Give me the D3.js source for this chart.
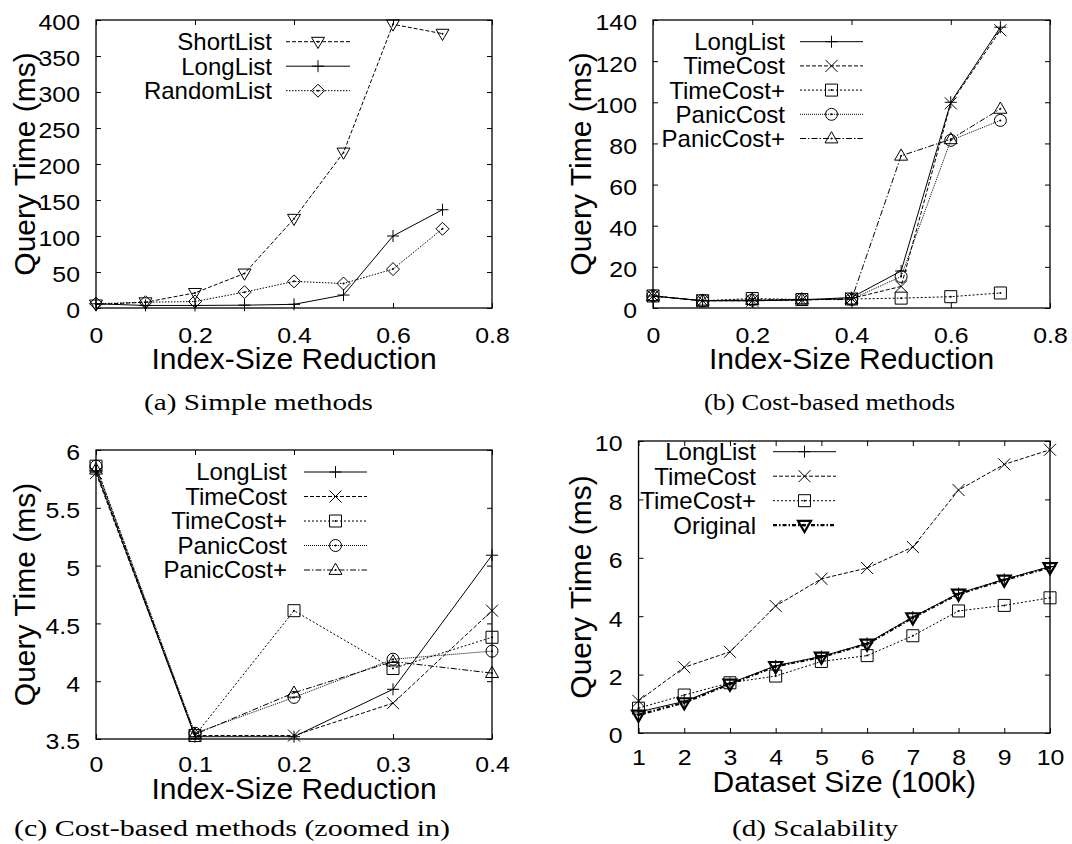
<!DOCTYPE html>
<html>
<head>
<meta charset="utf-8">
<script src="https://cdn.jsdelivr.net/npm/d3@7"></script>
<style>
  body { margin: 0; background: #fff; }
</style>
</head>
<body>
<script>
// ---- x values ----
const reduction = [0, 0.1, 0.2, 0.3, 0.4, 0.5, 0.6, 0.7];
const reductionZoomed = [0, 0.1, 0.2, 0.3, 0.4];
const datasetSize = [1, 2, 3, 4, 5, 6, 7, 8, 9, 10];

// ---- (a) simple methods, query time (ms) ----
const shortList  = [5, 8, 21, 48, 124, 216, 394, 381];
const longList   = [5.82, 3.52, 3.52, 3.93, 5.09, 18, 100, 136.5];
const randomList = [6, 8, 9, 22, 37, 34, 54, 110];

// ---- (b)/(c) cost-based methods, query time (ms) ----
const timeCost      = [5.80, 3.53, 3.53, 3.81, 4.61, 10.5, 99.5, 135];
const timeCostPlus  = [5.86, 3.53, 4.61, 4.11, 4.38, 4.8, 5.5, 7.3];
const panicCost     = [5.86, 3.55, 3.86, 4.19, 4.26, 15.3, 81.5, 91.2];
const panicCostPlus = [5.83, 3.54, 3.90, 4.17, 4.07, 74, 82, 96.8];

// ---- (d) scalability, query time (ms) ----
const scalLongList     = [0.72, 1.08, 1.70, 2.30, 2.62, 3.07, 3.97, 4.78, 5.26, 5.70];
const scalTimeCost     = [1.10, 2.25, 2.78, 4.35, 5.28, 5.65, 6.37, 8.32, 9.20, 9.70];
const scalTimeCostPlus = [0.85, 1.30, 1.72, 1.95, 2.45, 2.65, 3.33, 4.18, 4.37, 4.63];
const scalOriginal     = [0.62, 1.04, 1.68, 2.28, 2.60, 3.05, 3.95, 4.76, 5.24, 5.67];

// ---- ticks ----
const reductionTicks = [0, 0.2, 0.4, 0.6, 0.8];
const reductionTickLabels = ["0", "0.2", "0.4", "0.6", "0.8"];
const simpleTimeTicks = [0, 50, 100, 150, 200, 250, 300, 350, 400];
const simpleTimeTickLabels = ["0", "50", "100", "150", "200", "250", "300", "350", "400"];
const costTimeTicks = [0, 20, 40, 60, 80, 100, 120, 140];
const costTimeTickLabels = ["0", "20", "40", "60", "80", "100", "120", "140"];
const zoomReductionTicks = [0, 0.1, 0.2, 0.3, 0.4];
const zoomReductionTickLabels = ["0", "0.1", "0.2", "0.3", "0.4"];
const zoomTimeTicks = [3.5, 4, 4.5, 5, 5.5, 6];
const zoomTimeTickLabels = ["3.5", "4", "4.5", "5", "5.5", "6"];
const sizeTicks = [1, 2, 3, 4, 5, 6, 7, 8, 9, 10];
const sizeTickLabels = ["1", "2", "3", "4", "5", "6", "7", "8", "9", "10"];
const scalTimeTicks = [0, 2, 4, 6, 8, 10];
const scalTimeTickLabels = ["0", "2", "4", "6", "8", "10"];

// ---- line / point styles ----
const styles = {
  "ShortList":  { dash: "4,2",          marker: "triDown", width: 1 },
  "LongList":   { dash: null,           marker: "plus",    width: 1 },
  "RandomList": { dash: "1.5,1.5",      marker: "diamond", width: 1 },
  "TimeCost":   { dash: "4,2",          marker: "cross",   width: 1 },
  "TimeCost+":  { dash: "2,2",          marker: "square",  width: 1 },
  "PanicCost":  { dash: "1,1",          marker: "circle",  width: 1 },
  "PanicCost+": { dash: "6,2,1.5,2",    marker: "triUp",   width: 1 },
  "Original":   { dash: "4,2,1.5,2",    marker: "triDown", width: 2.2 }
};

const SANS = "'Liberation Sans', Arial, Helvetica, sans-serif";
const SERIF = "'Liberation Serif', 'Times New Roman', serif";

const markerPath = {
  plus:    "M-6,0H6M0,-6V6",
  cross:   "M-6,-6L6,6M-6,6L6,-6",
  square:  "M-6,-6H6V6H-6Z",
  circle:  "M6,0A6,6 0 1,1 -6,0A6,6 0 1,1 6,0Z",
  triUp:   "M0,-6.8L6.5,4.4L-6.5,4.4Z",
  triDown: "M0,6.8L6.5,-4.4L-6.5,-4.4Z",
  diamond: "M0,-6.5L6.5,0L0,6.5L-6.5,0Z"
};

const svg = d3.select("body").append("svg")
  .attr("width", 1072).attr("height", 844)
  .style("display", "block");
svg.append("rect").attr("width", 1072).attr("height", 844).attr("fill", "#fff");

function drawMarker(g, type, cx, cy, sw) {
  const m = g.append("g").attr("transform", `translate(${cx},${cy})`);
  m.append("path").attr("d", markerPath[type])
    .attr("fill", "none").attr("stroke", "#000").attr("stroke-width", sw);
  if (type !== "plus" && type !== "cross") {
    m.append("circle").attr("r", sw > 1.5 ? 1.4 : 1).attr("fill", "#000");
  }
}

function panel(cfg) {
  const g = svg.append("g");
  const x = d3.scaleLinear().domain(cfg.xDomain).range([cfg.l, cfg.r]);
  const y = d3.scaleLinear().domain(cfg.yDomain).range([cfg.b, cfg.t]);
  const tickLen = 5;

  // inward tick marks on all four sides
  const tickMarks = (axis, tx, ty) => {
    const a = g.append("g").attr("transform", `translate(${tx},${ty})`).call(axis);
    a.select(".domain").remove();
    a.selectAll("text").remove();
    a.selectAll("line").attr("stroke", "#000").attr("stroke-width", 1);
  };
  tickMarks(d3.axisBottom(x).tickValues(cfg.xTicks).tickSize(-tickLen), 0, cfg.b);
  tickMarks(d3.axisTop(x).tickValues(cfg.xTicks).tickSize(-tickLen), 0, cfg.t);
  tickMarks(d3.axisLeft(y).tickValues(cfg.yTicks).tickSize(-tickLen), cfg.l, 0);
  tickMarks(d3.axisRight(y).tickValues(cfg.yTicks).tickSize(-tickLen), cfg.r, 0);

  // tick labels
  const xl = g.append("g").attr("transform", `translate(0,${cfg.b})`)
    .call(d3.axisBottom(x).tickValues(cfg.xTicks)
      .tickFormat((d, i) => cfg.xLabels[i]).tickSize(0));
  xl.select(".domain").remove();
  xl.attr("font-family", SANS).attr("font-size", 22);
  xl.selectAll("text").attr("y", null).attr("dy", null).attr("fill", "#000")
    .attr("transform", `translate(0,${cfg.xLabelDy}) scale(1.13,1)`);

  const yl = g.append("g").attr("transform", `translate(${cfg.l},0)`)
    .call(d3.axisLeft(y).tickValues(cfg.yTicks)
      .tickFormat((d, i) => cfg.yLabels[i]).tickSize(0));
  yl.select(".domain").remove();
  yl.attr("font-family", SANS).attr("font-size", 22);
  yl.selectAll("text").attr("x", null).attr("dy", "0.45em").attr("fill", "#000")
    .attr("transform", `translate(-16,0) scale(1.13,1)`);

  // series
  const line = d3.line().x(d => x(d[0])).y(d => y(d[1]));
  cfg.series.forEach(s => {
    const st = styles[s.name];
    const pts = s.xs.map((xv, i) => [xv, s.values[i]]);
    g.append("path").datum(pts).attr("d", line)
      .attr("fill", "none").attr("stroke", "#000")
      .attr("stroke-width", st.width)
      .attr("stroke-dasharray", st.dash);
    pts.forEach(p => drawMarker(g, st.marker, x(p[0]), y(p[1]), st.width));
  });

  // frame
  g.append("rect")
    .attr("x", cfg.l).attr("y", cfg.t)
    .attr("width", cfg.r - cfg.l).attr("height", cfg.b - cfg.t)
    .attr("fill", "none").attr("stroke", "#000").attr("stroke-width", 1.3);

  // legend
  const lg = cfg.legend;
  cfg.series.forEach((s, i) => {
    const st = styles[s.name];
    const ry = lg.y0 + i * lg.step;
    g.append("text").attr("x", lg.textEnd).attr("y", ry).attr("dy", "0.35em")
      .attr("text-anchor", "end").attr("font-family", SANS).attr("font-size", 24)
      .attr("fill", "#000").text(s.name);
    g.append("line").attr("x1", lg.x1).attr("x2", lg.x2).attr("y1", ry).attr("y2", ry)
      .attr("stroke", "#000").attr("stroke-width", st.width)
      .attr("stroke-dasharray", st.dash);
    drawMarker(g, st.marker, (lg.x1 + lg.x2) / 2, ry, st.width);
  });

  // axis titles
  g.append("text").attr("x", (cfg.l + cfg.r) / 2).attr("y", cfg.b + cfg.xTitleDy)
    .attr("text-anchor", "middle").attr("font-family", SANS).attr("font-size", 30)
    .attr("fill", "#000").text(cfg.xTitle);
  g.append("text")
    .attr("transform", `translate(${cfg.yTitleX},${(cfg.t + cfg.b) / 2}) rotate(-90)`)
    .attr("text-anchor", "middle").attr("font-family", SANS).attr("font-size", 30)
    .attr("fill", "#000").text(cfg.yTitle);

  // caption
  g.append("text").attr("x", cfg.caption.x).attr("y", cfg.caption.y)
    .attr("font-family", SERIF).attr("font-size", 23).attr("fill", "#000")
    .attr("textLength", cfg.caption.len).attr("lengthAdjust", "spacingAndGlyphs")
    .text(cfg.caption.text);
}

// (a) Simple methods
panel({
  l: 96, r: 492, t: 20, b: 308,
  xDomain: [0, 0.8], yDomain: [0, 400],
  xTicks: reductionTicks, xLabels: reductionTickLabels,
  yTicks: simpleTimeTicks, yLabels: simpleTimeTickLabels,
  xLabelDy: 35, xTitleDy: 61, yTitleX: 35,
  xTitle: "Index-Size Reduction", yTitle: "Query Time (ms)",
  series: [
    { name: "ShortList", xs: reduction, values: shortList },
    { name: "LongList", xs: reduction, values: longList },
    { name: "RandomList", xs: reduction, values: randomList }
  ],
  legend: { textEnd: 272, x1: 286, x2: 350, y0: 41.7, step: 24.5 },
  caption: { text: "(a) Simple methods", x: 144, y: 410, len: 229 }
});

// (b) Cost-based methods
panel({
  l: 653, r: 1050, t: 20, b: 308,
  xDomain: [0, 0.8], yDomain: [0, 140],
  xTicks: reductionTicks, xLabels: reductionTickLabels,
  yTicks: costTimeTicks, yLabels: costTimeTickLabels,
  xLabelDy: 35, xTitleDy: 61, yTitleX: 591,
  xTitle: "Index-Size Reduction", yTitle: "Query Time (ms)",
  series: [
    { name: "LongList", xs: reduction, values: longList },
    { name: "TimeCost", xs: reduction, values: timeCost },
    { name: "TimeCost+", xs: reduction, values: timeCostPlus },
    { name: "PanicCost", xs: reduction, values: panicCost },
    { name: "PanicCost+", xs: reduction, values: panicCostPlus }
  ],
  legend: { textEnd: 785, x1: 800, x2: 863, y0: 41.7, step: 24.2 },
  caption: { text: "(b) Cost-based methods", x: 704, y: 410, len: 251 }
});

// (c) Cost-based methods, first five reduction levels
panel({
  l: 96, r: 492, t: 450, b: 739,
  xDomain: [0, 0.4], yDomain: [3.5, 6],
  xTicks: zoomReductionTicks, xLabels: zoomReductionTickLabels,
  yTicks: zoomTimeTicks, yLabels: zoomTimeTickLabels,
  xLabelDy: 33, xTitleDy: 60, yTitleX: 35,
  xTitle: "Index-Size Reduction", yTitle: "Query Time (ms)",
  series: [
    { name: "LongList", xs: reductionZoomed, values: longList.slice(0, 5) },
    { name: "TimeCost", xs: reductionZoomed, values: timeCost.slice(0, 5) },
    { name: "TimeCost+", xs: reductionZoomed, values: timeCostPlus.slice(0, 5) },
    { name: "PanicCost", xs: reductionZoomed, values: panicCost.slice(0, 5) },
    { name: "PanicCost+", xs: reductionZoomed, values: panicCostPlus.slice(0, 5) }
  ],
  legend: { textEnd: 287, x1: 304, x2: 367, y0: 472, step: 24.5 },
  caption: { text: "(c) Cost-based methods (zoomed in)", x: 14, y: 836, len: 436 }
});

// (d) Scalability
panel({
  l: 638.5, r: 1050, t: 441, b: 733,
  xDomain: [1, 10], yDomain: [0, 10],
  xTicks: sizeTicks, xLabels: sizeTickLabels,
  yTicks: scalTimeTicks, yLabels: scalTimeTickLabels,
  xLabelDy: 32, xTitleDy: 59, yTitleX: 591,
  xTitle: "Dataset Size (100k)", yTitle: "Query Time (ms)",
  series: [
    { name: "LongList", xs: datasetSize, values: scalLongList },
    { name: "TimeCost", xs: datasetSize, values: scalTimeCost },
    { name: "TimeCost+", xs: datasetSize, values: scalTimeCostPlus },
    { name: "Original", xs: datasetSize, values: scalOriginal }
  ],
  legend: { textEnd: 756, x1: 773, x2: 836, y0: 451.7, step: 24.5 },
  caption: { text: "(d) Scalability", x: 732, y: 836, len: 166 }
});
</script>
</body>
</html>
